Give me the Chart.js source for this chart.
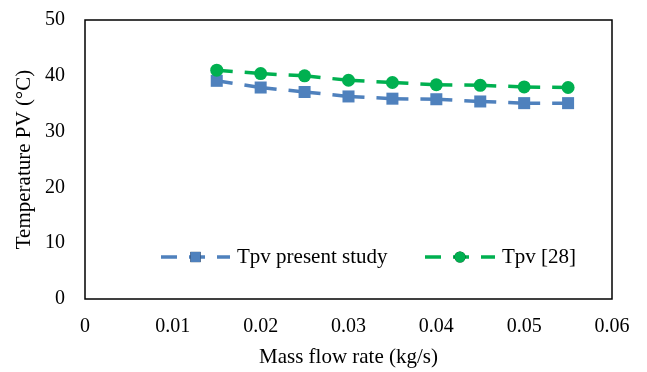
<!DOCTYPE html>
<html>
<head>
<meta charset="utf-8">
<script src="https://cdn.jsdelivr.net/npm/chart.js@4/dist/chart.umd.min.js"></script>
<style>
  html, body { margin: 0; padding: 0; background: #ffffff; }
  #wrap { width: 647px; height: 372px; }
</style>
</head>
<body>
<div id="wrap"><canvas id="c" width="647" height="372"></canvas></div>
<script>
// ---- data ----
const massFlow = [0.015, 0.02, 0.025, 0.03, 0.035, 0.04, 0.045, 0.05, 0.055];
const tpvPresent = [39.1, 37.9, 37.1, 36.3, 35.9, 35.8, 35.4, 35.1, 35.1];
const tpvRef28 = [41.0, 40.4, 40.0, 39.2, 38.8, 38.4, 38.3, 38.0, 37.9];
const seriesLabels = ['Tpv present study', 'Tpv [28]'];
const xTickLabels = ['0', '0.01', '0.02', '0.03', '0.04', '0.05', '0.06'];
const yTickLabels = ['0', '10', '20', '30', '40', '50'];
const xTitle = 'Mass flow rate (kg/s)';
const yTitle = 'Temperature PV (°C)';

const FONT = "'Liberation Serif', 'Times New Roman', serif";
const BLUE = '#4F81BD';
const GREEN = '#00B050';
const DASH = [16, 12];

const toXY = (xs, ys) => xs.map((x, i) => ({ x: x, y: ys[i] }));

const borderPlugin = {
  id: 'plotBorder',
  beforeDatasetsDraw(chart) {
    const { ctx, chartArea: a } = chart;
    ctx.save();
    ctx.strokeStyle = '#000';
    ctx.lineWidth = 1.5;
    ctx.strokeRect(a.left, a.top, a.right - a.left, a.bottom - a.top);
    ctx.restore();
  }
};

const innerLegend = {
  id: 'innerLegend',
  afterDatasetsDraw(chart, args, opts) {
    const { ctx } = chart;
    const y = opts.y;
    chart.data.datasets.forEach((ds, i) => {
      const e = opts.entries[i];
      ctx.save();
      ctx.strokeStyle = ds.borderColor;
      ctx.lineWidth = ds.borderWidth;
      ctx.setLineDash(ds.borderDash);
      ctx.beginPath();
      ctx.moveTo(e.x0, y);
      ctx.lineTo(e.x1, y);
      ctx.stroke();
      ctx.setLineDash([]);
      Chart.helpers.drawPoint(ctx, {
        pointStyle: ds.pointStyle,
        radius: ds.pointRadius * 0.85,
        rotation: 0,
        borderWidth: 0
      }, (e.x0 + e.x1) / 2, y);
      ctx.fillStyle = ds.pointBackgroundColor;
      ctx.fill();
      ctx.fillStyle = '#000';
      ctx.font = "21px " + FONT;
      ctx.textBaseline = 'middle';
      ctx.textAlign = 'left';
      ctx.fillText(ds.label, e.x1 + 7, y);
      ctx.restore();
    });
  }
};

const segDash = {
  borderDashOffset: c => (c.p0DataIndex % 2) * (DASH[0] + DASH[1])
};

new Chart(document.getElementById('c'), {
  type: 'line',
  data: {
    datasets: [
      {
        label: seriesLabels[0],
        data: toXY(massFlow, tpvPresent),
        borderColor: BLUE,
        backgroundColor: BLUE,
        pointBackgroundColor: BLUE,
        pointBorderColor: BLUE,
        pointBorderWidth: 0,
        borderWidth: 3.5,
        borderDash: DASH,
        pointStyle: 'rect',
        pointRadius: 8.5,
        tension: 0,
        order: 1,
        segment: segDash
      },
      {
        label: seriesLabels[1],
        data: toXY(massFlow, tpvRef28),
        borderColor: GREEN,
        backgroundColor: GREEN,
        pointBackgroundColor: GREEN,
        pointBorderColor: GREEN,
        pointBorderWidth: 0,
        borderWidth: 3.5,
        borderDash: DASH,
        pointStyle: 'circle',
        pointRadius: 6.5,
        tension: 0,
        order: 0,
        segment: segDash
      }
    ]
  },
  options: {
    responsive: false,
    animation: false,
    devicePixelRatio: 1,
    layout: { padding: { top: 20, right: 35, left: 0, bottom: 0 } },
    plugins: {
      legend: { display: false },
      tooltip: { enabled: false },
      innerLegend: {
        y: 257,
        entries: [ { x0: 161, x1: 230 }, { x0: 425, x1: 495 } ]
      }
    },
    scales: {
      x: {
        type: 'linear',
        min: 0,
        max: 0.06,
        grid: { display: false, drawTicks: false },
        border: { display: false },
        ticks: {
          stepSize: 0.01,
          padding: 16,
          maxRotation: 0,
          color: '#000',
          font: { family: FONT, size: 20 },
          callback: (v, i) => xTickLabels[i]
        },
        title: {
          display: true,
          text: xTitle,
          color: '#000',
          font: { family: FONT, size: 21 },
          padding: { top: 0, bottom: 2 }
        },
        afterFit: s => { s.height = 73; s.paddingLeft = 0; s.paddingRight = 0; }
      },
      y: {
        type: 'linear',
        min: 0,
        max: 50,
        grid: { display: false, drawTicks: false },
        border: { display: false },
        ticks: {
          stepSize: 10,
          padding: 20,
          color: '#000',
          font: { family: FONT, size: 20 },
          callback: (v, i) => yTickLabels[i]
        },
        title: {
          display: true,
          text: yTitle,
          color: '#000',
          font: { family: FONT, size: 21 },
          padding: { top: 12, bottom: 0 }
        },
        afterFit: s => { s.width = 85; s.paddingTop = 0; s.paddingBottom = 0; }
      }
    }
  },
  plugins: [borderPlugin, innerLegend]
});
</script>
</body>
</html>
